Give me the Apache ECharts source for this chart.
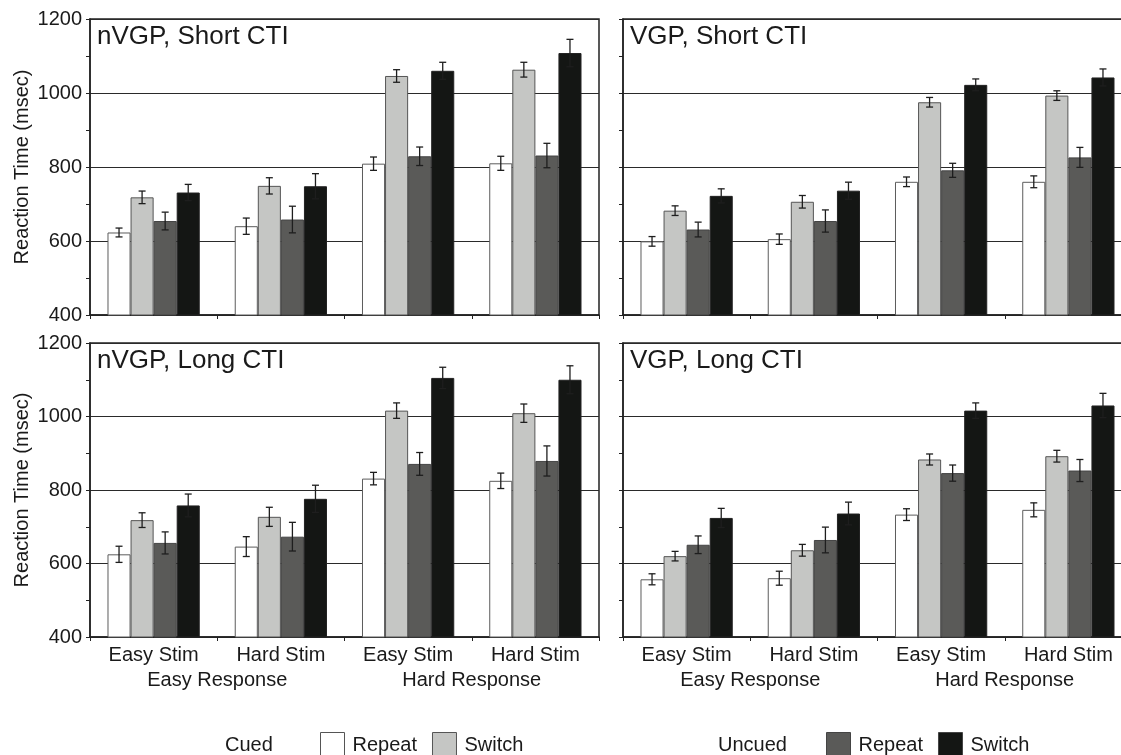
<!DOCTYPE html>
<html>
<head>
<meta charset="utf-8">
<script src="https://cdn.jsdelivr.net/npm/echarts@6/dist/echarts.min.js"></script>
<style>
html,body{margin:0;padding:0;background:#fff;}
#chart{width:1121px;height:755px;}
</style>
</head>
<body>
<div id="chart"></div>
<script>
// ---- data ----
const categories = ['Easy Stim', 'Hard Stim', 'Easy Stim', 'Hard Stim'];
const responseLabels = ['Easy Response', 'Hard Response'];
const seriesNames = ['Cued Repeat', 'Cued Switch', 'Uncued Repeat', 'Uncued Switch'];
const panelTitles = ['nVGP, Short CTI', 'VGP, Short CTI', 'nVGP, Long CTI', 'VGP, Long CTI'];
const yMin = 400, yMax = 1200, yStep = 200;

// nVGP, Short CTI
const nvgpShortCuedRepeat   = [623, 640, 809, 810];
const nvgpShortCuedSwitch   = [718, 749, 1046, 1063];
const nvgpShortUncuedRepeat = [654, 658, 829, 831];
const nvgpShortUncuedSwitch = [731, 748, 1060, 1108];
const nvgpShortCuedRepeatErr   = [12, 22, 18, 19];
const nvgpShortCuedSwitchErr   = [17, 22, 17, 20];
const nvgpShortUncuedRepeatErr = [24, 36, 25, 33];
const nvgpShortUncuedSwitchErr = [22, 34, 23, 37];

// VGP, Short CTI
const vgpShortCuedRepeat   = [599, 605, 760, 760];
const vgpShortCuedSwitch   = [682, 706, 975, 993];
const vgpShortUncuedRepeat = [631, 654, 791, 826];
const vgpShortUncuedSwitch = [722, 736, 1022, 1042];
const vgpShortCuedRepeatErr   = [13, 14, 13, 16];
const vgpShortCuedSwitchErr   = [13, 17, 13, 13];
const vgpShortUncuedRepeatErr = [20, 30, 19, 27];
const vgpShortUncuedSwitchErr = [19, 23, 16, 23];

// nVGP, Long CTI
const nvgpLongCuedRepeat   = [625, 646, 831, 825];
const nvgpLongCuedSwitch   = [718, 727, 1016, 1009];
const nvgpLongUncuedRepeat = [656, 673, 871, 879];
const nvgpLongUncuedSwitch = [758, 776, 1105, 1100];
const nvgpLongCuedRepeatErr   = [22, 27, 17, 21];
const nvgpLongCuedSwitchErr   = [20, 26, 21, 25];
const nvgpLongUncuedRepeatErr = [30, 39, 31, 41];
const nvgpLongUncuedSwitchErr = [31, 37, 29, 38];

// VGP, Long CTI
const vgpLongCuedRepeat   = [557, 560, 733, 746];
const vgpLongCuedSwitch   = [620, 636, 883, 892];
const vgpLongUncuedRepeat = [651, 664, 846, 853];
const vgpLongUncuedSwitch = [724, 736, 1016, 1030];
const vgpLongCuedRepeatErr   = [15, 19, 16, 19];
const vgpLongCuedSwitchErr   = [13, 16, 15, 16];
const vgpLongUncuedRepeatErr = [24, 35, 22, 30];
const vgpLongUncuedSwitchErr = [26, 31, 21, 33];

// ---- layout / style ----
const FONT = '"Liberation Sans", Arial, sans-serif';
const TXT = '#1a1a1a';
const barColors = ['#ffffff', '#c5c6c4', '#5a5a58', '#141614'];
const barBorders = ['#5c5c5c', '#555555', '#444444', '#222222'];
const CAT_GAP = 0.275;

const panels = [
  { means: [nvgpShortCuedRepeat, nvgpShortCuedSwitch, nvgpShortUncuedRepeat, nvgpShortUncuedSwitch],
    errs: [nvgpShortCuedRepeatErr, nvgpShortCuedSwitchErr, nvgpShortUncuedRepeatErr, nvgpShortUncuedSwitchErr],
    grid: { left: 90, top: 19, width: 509, height: 296 }, yLabels: true, xLabels: false },
  { means: [vgpShortCuedRepeat, vgpShortCuedSwitch, vgpShortUncuedRepeat, vgpShortUncuedSwitch],
    errs: [vgpShortCuedRepeatErr, vgpShortCuedSwitchErr, vgpShortUncuedRepeatErr, vgpShortUncuedSwitchErr],
    grid: { left: 623, top: 19, width: 509, height: 296 }, yLabels: false, xLabels: false },
  { means: [nvgpLongCuedRepeat, nvgpLongCuedSwitch, nvgpLongUncuedRepeat, nvgpLongUncuedSwitch],
    errs: [nvgpLongCuedRepeatErr, nvgpLongCuedSwitchErr, nvgpLongUncuedRepeatErr, nvgpLongUncuedSwitchErr],
    grid: { left: 90, top: 343, width: 509, height: 294 }, yLabels: true, xLabels: true },
  { means: [vgpLongCuedRepeat, vgpLongCuedSwitch, vgpLongUncuedRepeat, vgpLongUncuedSwitch],
    errs: [vgpLongCuedRepeatErr, vgpLongCuedSwitchErr, vgpLongUncuedRepeatErr, vgpLongUncuedSwitchErr],
    grid: { left: 623, top: 343, width: 509, height: 294 }, yLabels: false, xLabels: true }
];

const grids = [], xAxes = [], yAxes = [], series = [], titles = [];

panels.forEach((p, gi) => {
  grids.push(Object.assign({ show: true, borderColor: '#222', borderWidth: 1.5, backgroundColor: '#fff',
    containLabel: false, outerBoundsMode: 'none' }, p.grid));

  const catAxisIndex = xAxes.length;
  xAxes.push({
    type: 'category', gridIndex: gi, data: categories,
    axisLine: { show: true, lineStyle: { color: '#222', width: 1.5 } },
    axisTick: { show: true, inside: false, length: 4, lineStyle: { color: '#222' } },
    axisLabel: { show: p.xLabels, margin: 8, fontSize: 20, color: TXT, fontFamily: FONT, interval: 0 },
    splitLine: { show: false }
  });
  xAxes.push({
    type: 'category', gridIndex: gi, data: responseLabels, position: 'bottom', offset: 25,
    axisLine: { show: false }, axisTick: { show: false },
    axisLabel: { show: p.xLabels, margin: 8, fontSize: 20, color: TXT, fontFamily: FONT, interval: 0 },
    splitLine: { show: false }
  });

  yAxes.push({
    type: 'value', gridIndex: gi, min: yMin, max: yMax, interval: yStep,
    name: p.yLabels ? 'Reaction Time (msec)' : '',
    nameLocation: 'middle', nameRotate: 90, nameGap: 58,
    nameTextStyle: { fontSize: 20, color: TXT, fontFamily: FONT },
    axisLine: { show: true, lineStyle: { color: '#222', width: 1.5 } },
    axisTick: { show: true, inside: false, length: 4, lineStyle: { color: '#222' } },
    minorTick: { show: true, splitNumber: 2, length: 4, lineStyle: { color: '#222' } },
    axisLabel: { show: p.yLabels, margin: 8, fontSize: 20, color: TXT, fontFamily: FONT,
      formatter: v => String(v) },
    splitLine: { show: true, lineStyle: { color: '#2a2a2a', width: 1 } }
  });

  titles.push({
    text: panelTitles[gi], left: p.grid.left + 7, top: p.grid.top + 5, padding: 0,
    textStyle: { fontSize: 26, fontWeight: 'normal', color: TXT, fontFamily: FONT }
  });

  p.means.forEach((vals, k) => {
    series.push({
      type: 'bar', name: seriesNames[k], xAxisIndex: catAxisIndex, yAxisIndex: gi,
      data: vals, barGap: '0%', barCategoryGap: (CAT_GAP * 100) + '%',
      itemStyle: { color: barColors[k], borderColor: barBorders[k], borderWidth: 1 },
      emphasis: { disabled: true }, z: 2
    });
  });

  const errData = [];
  p.means.forEach((vals, k) => {
    vals.forEach((v, ci) => errData.push([ci, v, p.errs[k][ci], k]));
  });
  series.push({
    type: 'custom', name: 'err' + gi, xAxisIndex: catAxisIndex, yAxisIndex: gi, z: 5,
    encode: { x: 0, y: 1 }, data: errData, silent: true,
    renderItem: function (params, api) {
      const ci = api.value(0), m = api.value(1), e = api.value(2), k = api.value(3);
      const band = api.size([1, 0])[0];
      const bw = band * (1 - CAT_GAP) / 4;
      const cx = api.coord([ci, m])[0] + (k - 1.5) * bw;
      const yt = api.coord([ci, m + e])[1];
      const yb = api.coord([ci, m - e])[1];
      const cap = 3.5;
      const st = { stroke: '#1e1e1e', lineWidth: 1.3 };
      return {
        type: 'group',
        children: [
          { type: 'line', shape: { x1: cx, y1: yt, x2: cx, y2: yb }, style: st },
          { type: 'line', shape: { x1: cx - cap, y1: yt, x2: cx + cap, y2: yt }, style: st },
          { type: 'line', shape: { x1: cx - cap, y1: yb, x2: cx + cap, y2: yb }, style: st }
        ]
      };
    }
  });
});

titles.push({ text: 'Cued', left: 225, top: 735, padding: 0,
  textStyle: { fontSize: 20, fontWeight: 'normal', color: TXT, fontFamily: FONT } });
titles.push({ text: 'Uncued', left: 718, top: 735, padding: 0,
  textStyle: { fontSize: 20, fontWeight: 'normal', color: TXT, fontFamily: FONT } });

const legendBase = {
  orient: 'horizontal', icon: 'rect', itemWidth: 24, itemHeight: 26, itemGap: 15, padding: 0,
  top: 732, selectedMode: false,
  textStyle: { fontSize: 20, color: TXT, fontFamily: FONT, padding: [0, 0, 0, 3] },
  formatter: n => n.split(' ')[1]
};

const option = {
  animation: false,
  backgroundColor: '#fff',
  title: titles,
  grid: grids,
  xAxis: xAxes,
  yAxis: yAxes,
  legend: [
    Object.assign({}, legendBase, { left: 320, data: ['Cued Repeat', 'Cued Switch'],
      itemStyle: { borderColor: '#555', borderWidth: 1 } }),
    Object.assign({}, legendBase, { left: 826, data: ['Uncued Repeat', 'Uncued Switch'],
      itemStyle: { borderColor: '#444', borderWidth: 1 } })
  ],
  series: series
};

const chart = echarts.init(document.getElementById('chart'), null, { renderer: 'canvas' });
chart.setOption(option);
</script>
</body>
</html>
